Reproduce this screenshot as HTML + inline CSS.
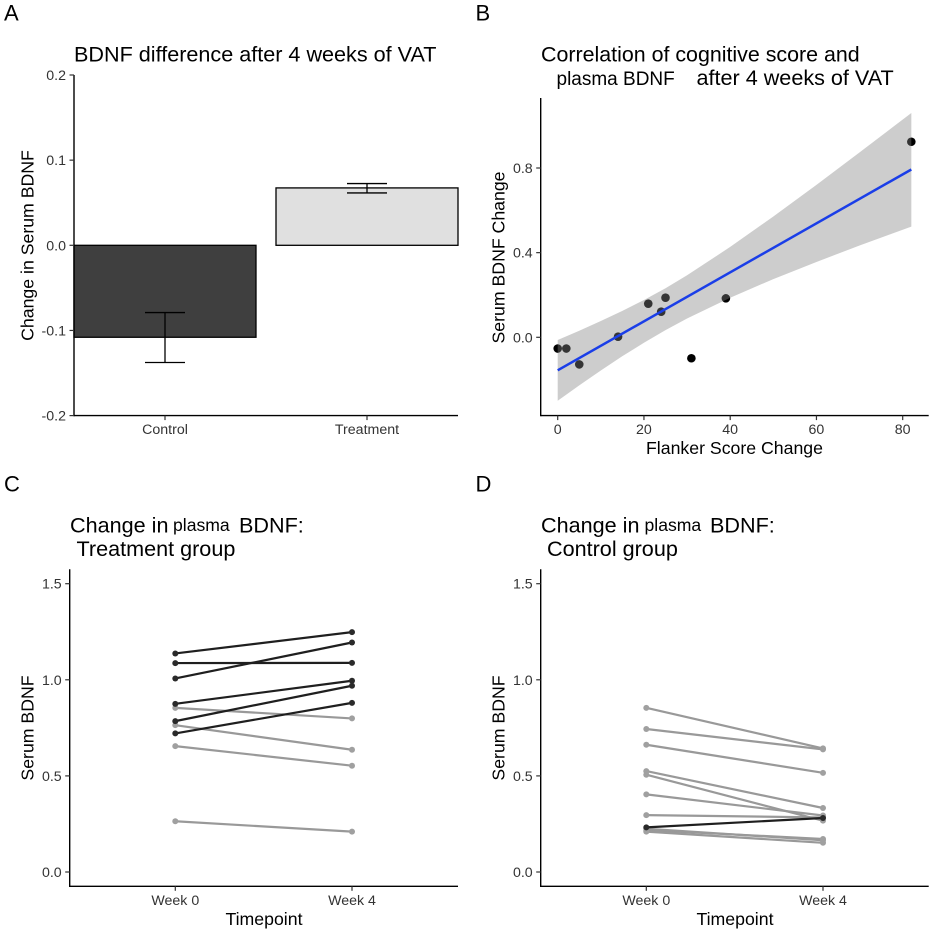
<!DOCTYPE html>
<html lang="en">
<head>
<meta charset="utf-8">
<title>BDNF figure</title>
<style>
html,body{margin:0;padding:0;background:#fff;width:935px;height:935px;overflow:hidden}
svg{display:block;font-family:"Liberation Sans",Arial,sans-serif}
.title{font-size:21.6px;fill:#000}
.small{font-size:17.6px;fill:#000}
.letter{font-size:22px;fill:#000}
.axt{font-size:17.7px;fill:#000}
.tick{font-size:14.2px;fill:#333}
</style>
</head>
<body>
<svg id="fig" width="935" height="935" viewBox="0 0 935 935" xmlns="http://www.w3.org/2000/svg">
  <rect width="935" height="935" fill="#fff"/>

  <text class="letter" x="4" y="20.5">A</text>
  <text class="title" x="74" y="61.5">BDNF difference after 4 weeks of VAT</text>
  <text class="axt" transform="translate(33.5,245.5) rotate(-90)" text-anchor="middle">Change in Serum BDNF</text>

  <text class="letter" x="475.5" y="20.5">B</text>
  <text class="title" x="541" y="61.5" style="font-size:21.4px">Correlation of cognitive score and</text>
  <text class="title" x="556.5" y="85" style="font-size:19px">plasma BDNF</text>
  <text class="title" x="696.5" y="85">after 4 weeks of VAT</text>
  <text class="axt" transform="translate(504.5,257.5) rotate(-90)" text-anchor="middle">Serum BDNF Change</text>
  <text class="axt" x="734.5" y="454" text-anchor="middle">Flanker Score Change</text>

  <text class="letter" x="4" y="491.5">C</text>
  <text class="title" x="70" y="532.5">Change in</text>
  <text class="small" x="173" y="531">plasma</text>
  <text class="title" x="239" y="532.5">BDNF:</text>
  <text class="title" x="76.5" y="556">Treatment group</text>
  <text class="axt" transform="translate(33.5,728) rotate(-90)" text-anchor="middle">Serum BDNF</text>
  <text class="axt" x="264" y="925" text-anchor="middle">Timepoint</text>

  <text class="letter" x="475.5" y="491.5">D</text>
  <text class="title" x="541" y="532.5">Change in</text>
  <text class="small" x="644.5" y="531">plasma</text>
  <text class="title" x="710" y="532.5">BDNF:</text>
  <text class="title" x="547" y="556">Control group</text>
  <text class="axt" transform="translate(504.5,728) rotate(-90)" text-anchor="middle">Serum BDNF</text>
  <text class="axt" x="735" y="925" text-anchor="middle">Timepoint</text>
</svg>
<script>
// Panel A data
const barCategories = ['Control', 'Treatment'];
const barValues = [-0.108, 0.0674];
const barErrLow = [-0.1376, 0.0615];
const barErrHigh = [-0.079, 0.0725];
const barTickLabels = ['-0.2', '-0.1', '0.0', '0.1', '0.2'];
const barTickValues = [-0.2, -0.1, 0, 0.1, 0.2];

// Panel B data
const flankerChange = [0, 2, 5, 14, 21, 24, 25, 31, 39, 82];
const bdnfChange = [-0.053, -0.053, -0.128, 0.003, 0.159, 0.121, 0.187, -0.099, 0.184, 0.924];
const fitX = [0, 82];
const fitY = [-0.156, 0.793];
const bandX = [0, 5, 10, 15, 20, 25, 30, 40, 50, 60, 70, 82];
const bandUpper = [-0.013, 0.031, 0.077, 0.125, 0.176, 0.232, 0.293, 0.427, 0.571, 0.72, 0.874, 1.06];
const bandLower = [-0.30, -0.227, -0.157, -0.089, -0.026, 0.034, 0.089, 0.187, 0.275, 0.356, 0.434, 0.523];
const scatterXTicks = [0, 20, 40, 60, 80];
const scatterYTicks = [0, 0.4, 0.8];
const scatterYLabels = ['0.0', '0.4', '0.8'];

// Panels C and D data
const timepoints = ['Week 0', 'Week 4'];
const pairedTicks = [0, 0.5, 1, 1.5];
const pairedTickLabels = ['0.0', '0.5', '1.0', '1.5'];
const treatmentWeek0 = [0.854, 0.764, 0.655, 0.264, 1.137, 1.087, 1.007, 0.875, 0.785, 0.721];
const treatmentWeek4 = [0.799, 0.636, 0.553, 0.21, 1.248, 1.088, 1.194, 0.995, 0.969, 0.88];
const treatmentRose = [false, false, false, false, true, true, true, true, true, true];
const controlWeek0 = [0.854, 0.744, 0.662, 0.525, 0.506, 0.404, 0.296, 0.218, 0.21, 0.225, 0.232];
const controlWeek4 = [0.643, 0.638, 0.516, 0.333, 0.267, 0.294, 0.284, 0.172, 0.152, 0.165, 0.281];
const controlRose = [false, false, false, false, false, false, false, false, false, false, true];

const svg = document.getElementById('fig');
const NS = 'http://www.w3.org/2000/svg';

function linear(d0, d1, r0, r1) {
  return function (v) { return r0 + (v - d0) * (r1 - r0) / (d1 - d0); };
}
function drawLine(parent, name, x1, y1, x2, y2, stroke, width) {
  const el = document.createElementNS(NS, 'line');
  
  
  el.setAttribute('x1', x1);
  el.setAttribute('y1', y1);
  el.setAttribute('x2', x2);
  el.setAttribute('y2', y2);
  el.setAttribute('stroke', stroke);
  el.setAttribute('stroke-width', width);
  parent.appendChild(el);
  return el;
}
function drawCircle(parent, name, cx, cy, r, fill) {
  const el = document.createElementNS(NS, 'circle');
  
  
  el.setAttribute('cx', cx);
  el.setAttribute('cy', cy);
  el.setAttribute('r', r);
  el.setAttribute('fill', fill);
  parent.appendChild(el);
  return el;
}
function drawText(parent, name, x, y, anchor, str) {
  const el = document.createElementNS(NS, 'text');
  
  
  el.setAttribute('class', 'tick');
  el.setAttribute('x', x);
  el.setAttribute('y', y);
  el.setAttribute('text-anchor', anchor);
  el.textContent = str;
  parent.appendChild(el);
  return el;
}
function drawGroup(name) {
  const el = document.createElementNS(NS, 'g');
  
  
  svg.appendChild(el);
  return el;
}
function drawAxes(g, prefix, box, yTicks, yLabels, yScale, xPos, xLabels, xLabelY) {
  drawLine(g, prefix + '-y-axis-line', box.left, box.top, box.left, box.bottom + 0.7, '#000', 1.4);
  drawLine(g, prefix + '-x-axis-line', box.left, box.bottom, box.right, box.bottom, '#000', 1.4);
  yTicks.forEach(function (t, i) {
    const y = yScale(t);
    drawLine(g, prefix + '-y-tick', box.left - 4.5, y, box.left, y, '#333', 1.2);
    drawText(g, prefix + '-y-tick-label', box.left - 8, y + 5, 'end', yLabels[i]);
  });
  xPos.forEach(function (x, i) {
    drawLine(g, prefix + '-x-tick', x, box.bottom, x, box.bottom + 4.5, '#333', 1.2);
    drawText(g, prefix + '-x-tick-label', x, xLabelY, 'middle', xLabels[i]);
  });
}

// Panel A
(function () {
  const g = drawGroup('panel-a-bar-chart');
  const box = { left: 74, right: 458, top: 75, bottom: 415.6 };
  const y = linear(-0.2, 0.2, 415.6, 75);
  const bandStep = 202;
  const bandStart = 165;
  const xc = barCategories.map(function (c, i) { return bandStart + i * bandStep; });
  const fills = ['#3f3f3f', '#e0e0e0'];
  const names = ['bar-control', 'bar-treatment'];
  barValues.forEach(function (v, i) {
    const r = document.createElementNS(NS, 'rect');
    
    
    r.setAttribute('x', xc[i] - 91);
    r.setAttribute('width', 182);
    r.setAttribute('y', Math.min(y(v), y(0)));
    r.setAttribute('height', Math.abs(y(v) - y(0)));
    r.setAttribute('fill', fills[i]);
    r.setAttribute('stroke', '#000');
    r.setAttribute('stroke-width', 1.3);
    g.appendChild(r);
  });
  barValues.forEach(function (v, i) {
    drawLine(g, 'error-bar-stem', xc[i], y(barErrLow[i]), xc[i], y(barErrHigh[i]), '#000', 1.3);
    drawLine(g, 'error-bar-cap-low', xc[i] - 20, y(barErrLow[i]), xc[i] + 20, y(barErrLow[i]), '#000', 1.3);
    drawLine(g, 'error-bar-cap-high', xc[i] - 20, y(barErrHigh[i]), xc[i] + 20, y(barErrHigh[i]), '#000', 1.3);
  });
  drawAxes(g, 'panel-a', box, barTickValues, barTickLabels, y, xc, barCategories, 434);
})();

// Panel B
(function () {
  const g = drawGroup('panel-b-scatter-chart');
  const box = { left: 540.7, right: 928.7, top: 98, bottom: 415.6 };
  const x = linear(0, 80, 557.7, 902.7);
  const y = linear(0, 0.8, 337.3, 168);
  flankerChange.forEach(function (v, i) {
    drawCircle(g, 'scatter-point', x(v), y(bdnfChange[i]), 4.3, '#000');
  });
  const upper = bandX.map(function (v, i) { return x(v) + ',' + y(bandUpper[i]); });
  const lower = bandX.map(function (v, i) { return x(v) + ',' + y(bandLower[i]); }).reverse();
  const band = document.createElementNS(NS, 'polygon');
  
  
  band.setAttribute('points', upper.concat(lower).join(' '));
  band.setAttribute('fill', '#818181');
  band.setAttribute('fill-opacity', '0.4');
  g.appendChild(band);
  drawLine(g, 'regression-line', x(fitX[0]), y(fitY[0]), x(fitX[1]), y(fitY[1]), '#1a3ee8', 2.5);
  drawAxes(g, 'panel-b', box, scatterYTicks, scatterYLabels, y, scatterXTicks.map(x), scatterXTicks.map(String), 434);
})();

// Panels C and D
function pairedPanel(prefix, box, x0, x1, week0, week4, rose) {
  const g = drawGroup(prefix + '-paired-chart');
  const y = linear(0, 1.5, 872, 583.7);
  const order = week0.map(function (v, i) { return i; });
  order.forEach(function (i) {
    const col = rose[i] ? '#1f1f1f' : '#999';
    drawLine(g, prefix + '-subject-line', x0, y(week0[i]), x1, y(week4[i]), col, 2.2);
    drawCircle(g, prefix + '-point-week-0', x0, y(week0[i]), 3, rose[i] ? '#2a2a2a' : '#a0a0a0');
    drawCircle(g, prefix + '-point-week-4', x1, y(week4[i]), 3, rose[i] ? '#2a2a2a' : '#a0a0a0');
  });
  drawAxes(g, prefix, box, pairedTicks, pairedTickLabels, y, [x0, x1], timepoints, 905);
}
pairedPanel('panel-c', { left: 69.7, right: 458, top: 569.3, bottom: 886.3 }, 175.3, 352, treatmentWeek0, treatmentWeek4, treatmentRose);
pairedPanel('panel-d', { left: 540.7, right: 928.7, top: 569.3, bottom: 886.3 }, 646.3, 823, controlWeek0, controlWeek4, controlRose);
</script>
</body>
</html>
